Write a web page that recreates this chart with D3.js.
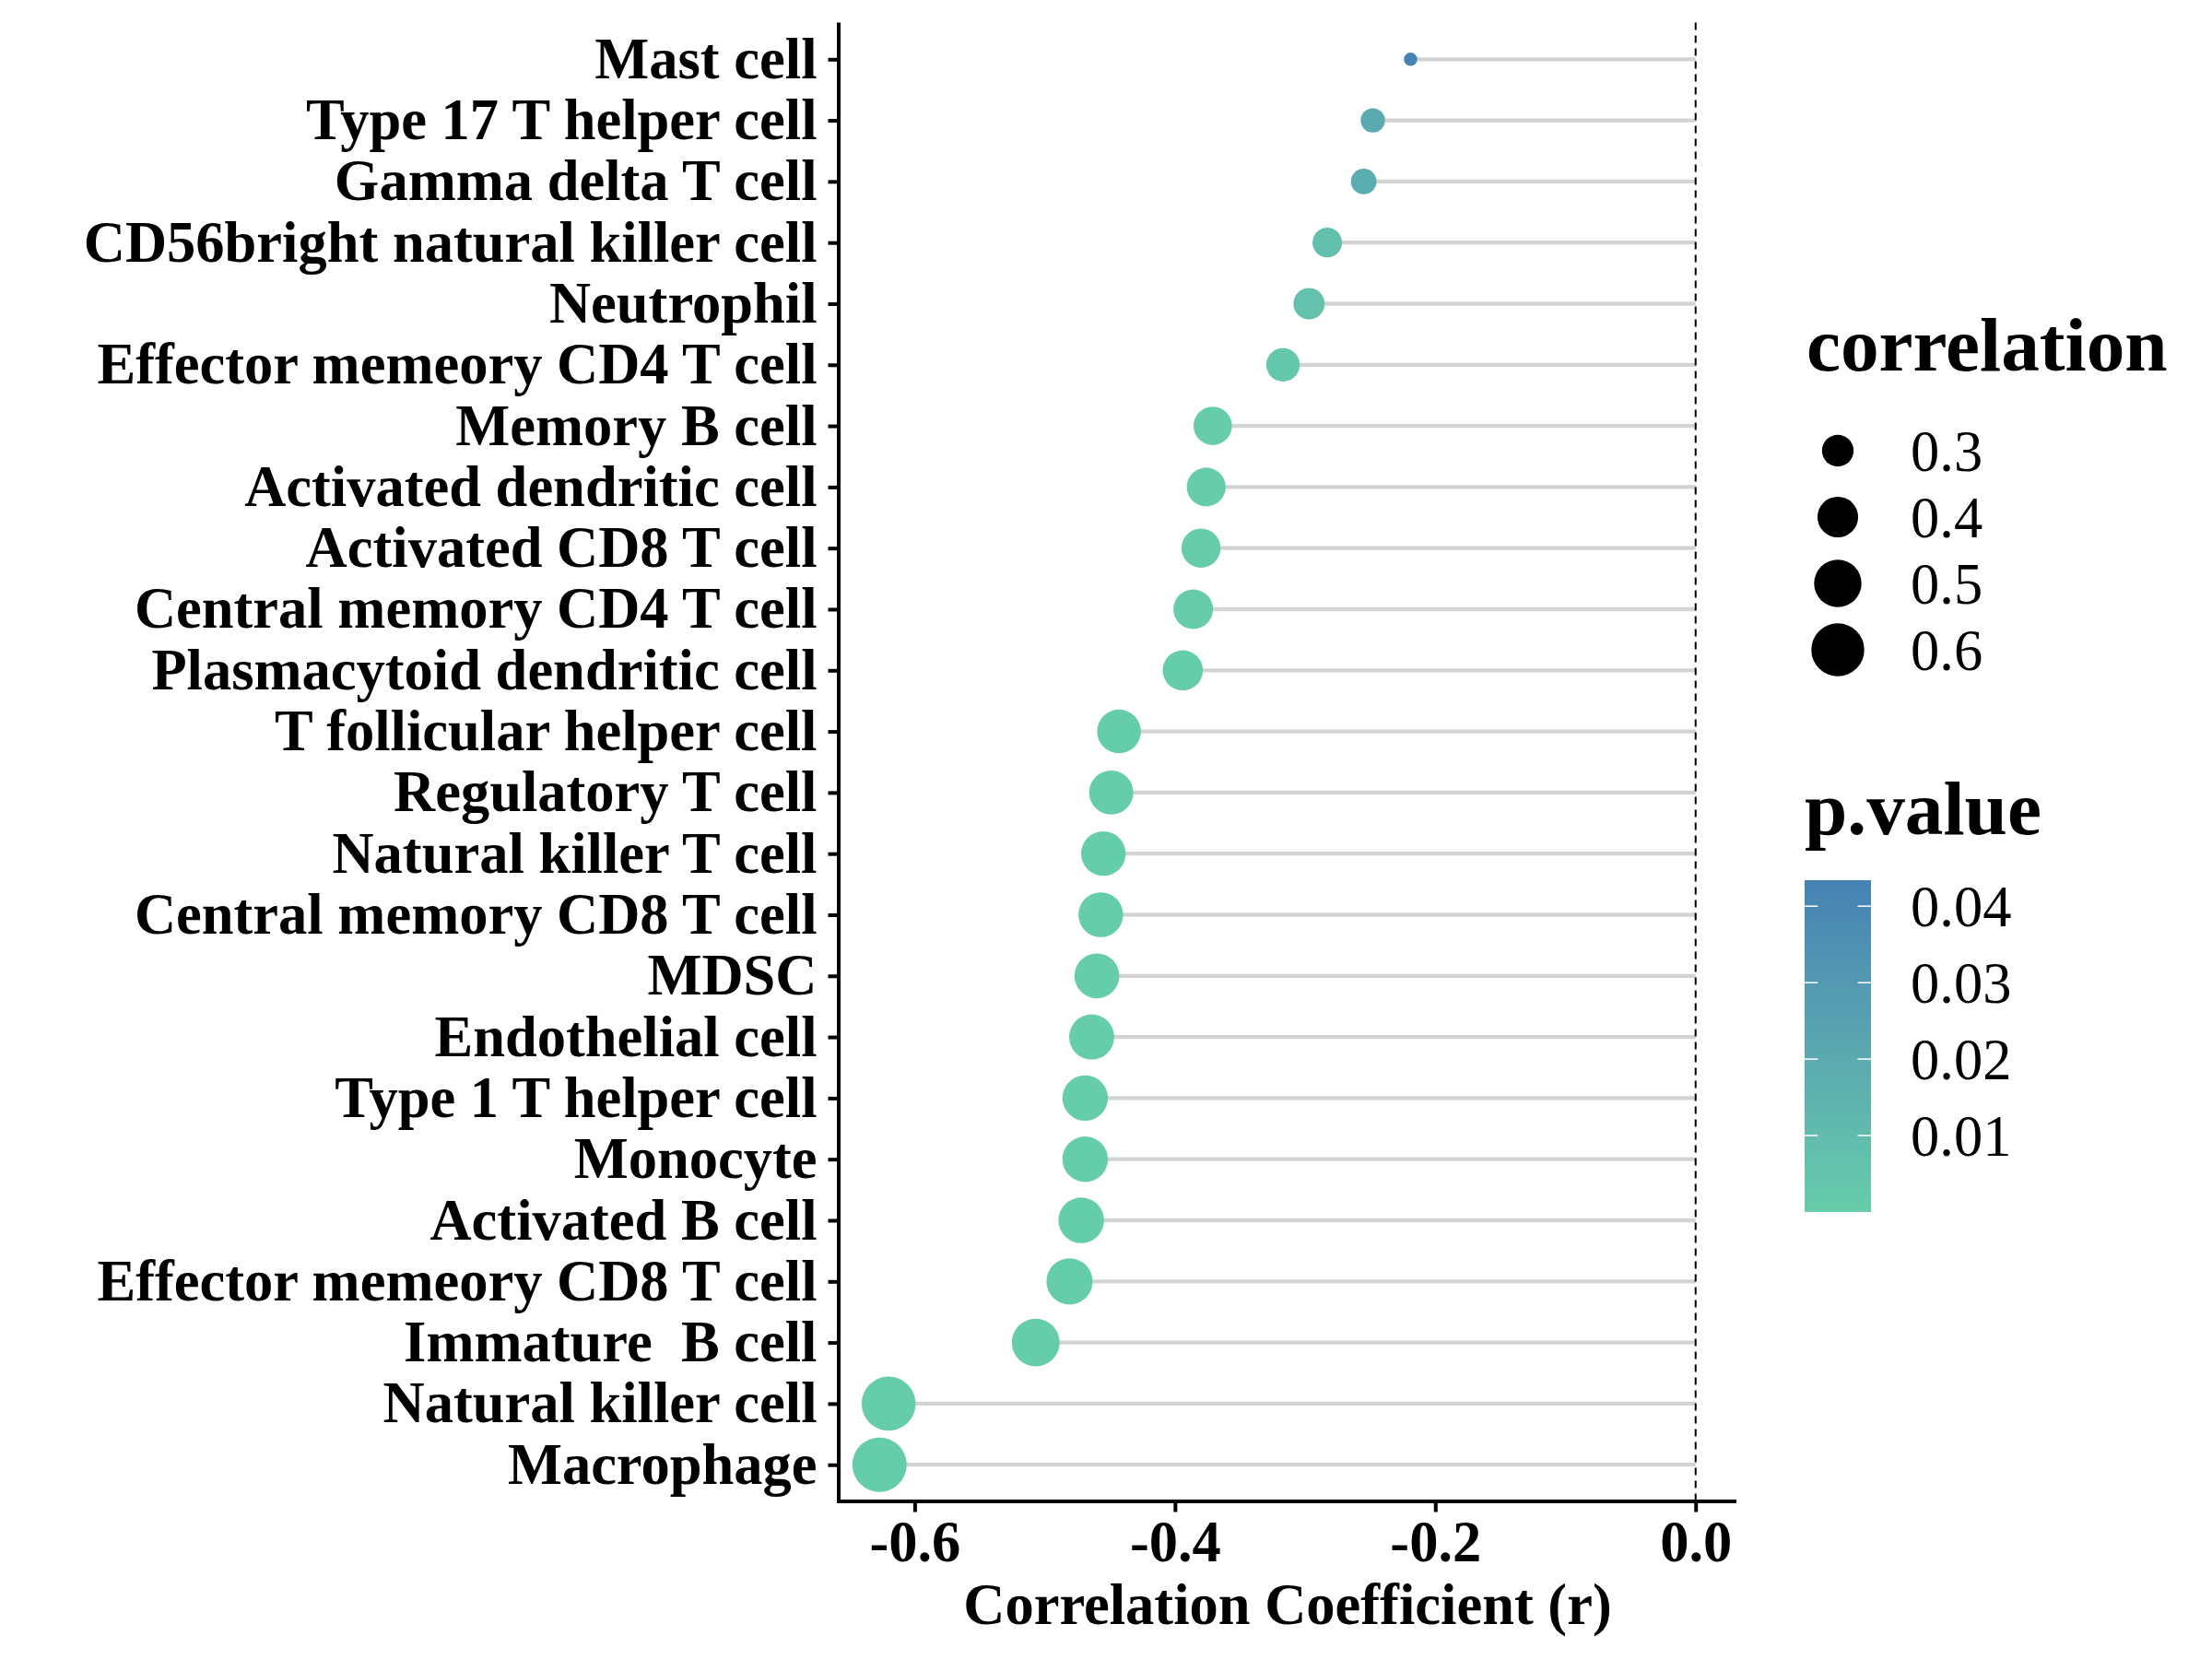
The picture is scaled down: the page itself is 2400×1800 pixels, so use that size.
<!DOCTYPE html>
<html>
<head>
<meta charset="utf-8">
<script src="https://cdn.jsdelivr.net/npm/d3@7"></script>
<style>
  html, body { margin: 0; padding: 0; background: #fff; }
  svg text { font-family: "Liberation Serif", "DejaVu Serif", serif; }
</style>
</head>
<body>
<div id="chart"></div>
<script>
// Cell types, top to bottom
const cellTypes = [
  "Mast cell",
  "Type 17 T helper cell",
  "Gamma delta T cell",
  "CD56bright natural killer cell",
  "Neutrophil",
  "Effector memeory CD4 T cell",
  "Memory B cell",
  "Activated dendritic cell",
  "Activated CD8 T cell",
  "Central memory CD4 T cell",
  "Plasmacytoid dendritic cell",
  "T follicular helper cell",
  "Regulatory T cell",
  "Natural killer T cell",
  "Central memory CD8 T cell",
  "MDSC",
  "Endothelial cell",
  "Type 1 T helper cell",
  "Monocyte",
  "Activated B cell",
  "Effector memeory CD8 T cell",
  "Immature  B cell",
  "Natural killer cell",
  "Macrophage",
];

// Correlation coefficient (r)
const rValues = [
  -0.219, -0.248, -0.255, -0.283, -0.297, -0.317, -0.371, -0.376, -0.38,
  -0.386, -0.394, -0.443, -0.449, -0.455, -0.457, -0.46, -0.464, -0.469,
  -0.469, -0.472, -0.481, -0.507, -0.62, -0.627,
];

// p values, estimated from point colour
const pValues = [
  0.0434, 0.02, 0.019, 0.008, 0.0065, 0.004, 0.0005, 0.0004, 0.0003,
  0.0003, 0.0002, 0.00003, 0.00002, 0.00002, 0.00002, 0.00001, 0.00001,
  0.00001, 0.00001, 0.00001, 0.000005, 0.000001, 0.0000001, 0.00000005,
];

const xTicks = [-0.6, -0.4, -0.2, 0.0];
const sizeBreaks = [0.3, 0.4, 0.5, 0.6];
const pBreaks = [0.01, 0.02, 0.03, 0.04];

const data = cellTypes.map((name, i) => ({
  name,
  r: rValues[i],
  corr: Math.abs(rValues[i]),
  p: pValues[i],
}));

const W = 2400;
const H = 1800;
const panel = { left: 910, right: 1884, top: 24.5, bottom: 1629 };
const fontMain = 62.5;
const fontTitle = 83.3;

const svg = d3
  .select("#chart")
  .append("svg")
  .attr("width", W)
  .attr("height", H)
  .attr("viewBox", `0 0 ${W} ${H}`);

// scales (ggplot-like 5% expansion on x)
const minR = d3.min(data, (d) => d.r);
const span = 0 - minR;
const x = d3
  .scaleLinear()
  .domain([minR - 0.05 * span, 0 + 0.05 * span])
  .range([panel.left, panel.right]);

const y = d3
  .scalePoint()
  .domain(cellTypes)
  .range([panel.top, panel.bottom])
  .padding(0.6);

// size: area proportional, like scale_size
const corrExtent = d3.extent(data, (d) => d.corr);
const rescale = d3.scaleLinear().domain(corrExtent).range([0, 1]).clamp(true);
const diam = d3.scaleLinear().domain([0, 1]).range([14.5, 59]);
const sizeOf = (v) => diam(Math.sqrt(rescale(v)));

const pExtent = d3.extent(data, (d) => d.p);
const color = d3
  .scaleLinear()
  .domain(pExtent)
  .range(["#66CDAA", "#4682B4"])
  .interpolate(d3.interpolateLab);

// segments
svg
  .append("g")
  .selectAll("line")
  .data(data)
  .enter()
  .append("line")
  .attr("x1", (d) => x(d.r))
  .attr("x2", x(0))
  .attr("y1", (d) => y(d.name))
  .attr("y2", (d) => y(d.name))
  .attr("stroke", "#D3D3D3")
  .attr("stroke-width", 4.3);

// reference line at 0
svg
  .append("line")
  .attr("x1", x(0))
  .attr("x2", x(0))
  .attr("y1", panel.top)
  .attr("y2", panel.bottom)
  .attr("stroke", "#000")
  .attr("stroke-width", 2)
  .attr("stroke-dasharray", "8,6");

// points
svg
  .append("g")
  .selectAll("circle")
  .data(data)
  .enter()
  .append("circle")
  .attr("cx", (d) => x(d.r))
  .attr("cy", (d) => y(d.name))
  .attr("r", (d) => sizeOf(d.corr) / 2)
  .attr("fill", (d) => color(d.p));

// axes
const xAxis = d3
  .axisBottom(x)
  .tickValues(xTicks)
  .tickFormat((d) => d.toFixed(1))
  .tickSize(11.5)
  .tickSizeOuter(0)
  .tickPadding(9);

const yAxis = d3.axisLeft(y).tickSize(11.5).tickSizeOuter(0).tickPadding(12);

const gx = svg
  .append("g")
  .attr("transform", `translate(0, ${panel.bottom})`)
  .call(xAxis);

const gy = svg
  .append("g")
  .attr("transform", `translate(${panel.left}, 0)`)
  .call(yAxis);

gy.select(".domain").attr("d", `M0,${panel.top}V${panel.bottom}`);

[gx, gy].forEach((g) => {
  g.select(".domain").attr("stroke", "#000").attr("stroke-width", 4);
  g.selectAll(".tick line").attr("stroke", "#000").attr("stroke-width", 4);
  g.selectAll(".tick text")
    .attr("fill", "#000")
    .style("font-size", `${fontMain}px`)
    .style("font-weight", "bold")
    .style("font-family", "'Liberation Serif', serif");
});
gx.select(".domain").attr("d", `M${panel.left - 2},0H${panel.right}`);
gy.selectAll(".tick text").attr("xml:space", "preserve").style("white-space", "pre");

// x axis title
svg
  .append("text")
  .attr("x", (panel.left + panel.right) / 2)
  .attr("y", 1762)
  .attr("text-anchor", "middle")
  .style("font-size", `${fontMain}px`)
  .style("font-weight", "bold")
  .text("Correlation Coefficient (r)");

// legend: correlation (size)
const legX = 1960;
const sizeLeg = svg.append("g");
sizeLeg
  .append("text")
  .attr("x", legX)
  .attr("y", 402)
  .style("font-size", `${fontTitle}px`)
  .style("font-weight", "bold")
  .text("correlation");

sizeLeg
  .selectAll("circle")
  .data(sizeBreaks)
  .enter()
  .append("circle")
  .attr("cx", 1994)
  .attr("cy", (d, i) => 489 + i * 72)
  .attr("r", (d) => sizeOf(d) / 2)
  .attr("fill", "#000");

sizeLeg
  .selectAll("text.lab")
  .data(sizeBreaks)
  .enter()
  .append("text")
  .attr("class", "lab")
  .attr("x", 2073)
  .attr("y", (d, i) => 489 + i * 72 + 22)
  .style("font-size", `${fontMain}px`)
  .text((d) => d.toFixed(1));

// legend: p.value (colour bar)
const bar = { x: 1958, y: 955, w: 72, h: 360 };
const pLeg = svg.append("g");
pLeg
  .append("text")
  .attr("x", bar.x)
  .attr("y", 905)
  .style("font-size", `${fontTitle}px`)
  .style("font-weight", "bold")
  .text("p.value");

const grad = svg
  .append("defs")
  .append("linearGradient")
  .attr("id", "pgrad")
  .attr("x1", 0)
  .attr("y1", 1)
  .attr("x2", 0)
  .attr("y2", 0);

d3.range(0, 1.0001, 0.05).forEach((t) => {
  grad
    .append("stop")
    .attr("offset", t)
    .attr("stop-color", color(pExtent[0] + t * (pExtent[1] - pExtent[0])));
});

pLeg
  .append("rect")
  .attr("x", bar.x)
  .attr("y", bar.y)
  .attr("width", bar.w)
  .attr("height", bar.h)
  .attr("fill", "url(#pgrad)");

const barY = d3
  .scaleLinear()
  .domain(pExtent)
  .range([bar.y + bar.h, bar.y]);

pBreaks.forEach((b) => {
  const yy = barY(b);
  pLeg
    .append("line")
    .attr("x1", bar.x)
    .attr("x2", bar.x + 14.4)
    .attr("y1", yy)
    .attr("y2", yy)
    .attr("stroke", "#fff")
    .attr("stroke-width", 1.5);
  pLeg
    .append("line")
    .attr("x1", bar.x + bar.w - 14.4)
    .attr("x2", bar.x + bar.w)
    .attr("y1", yy)
    .attr("y2", yy)
    .attr("stroke", "#fff")
    .attr("stroke-width", 1.5);
  pLeg
    .append("text")
    .attr("x", 2073)
    .attr("y", yy + 22)
    .style("font-size", `${fontMain}px`)
    .text(b.toFixed(2));
});
</script>
</body>
</html>
